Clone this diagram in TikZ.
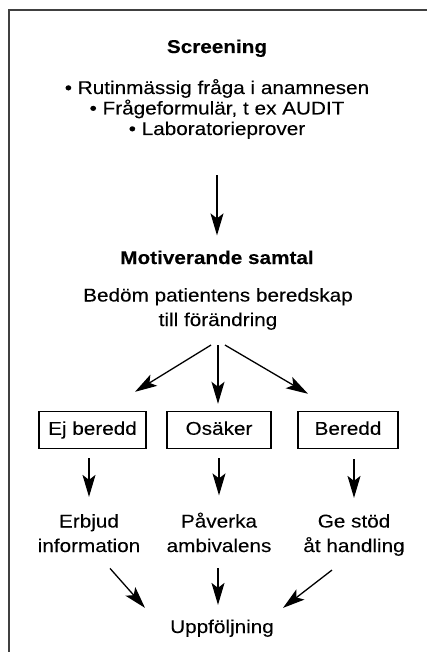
\documentclass[tikz,border=0pt]{standalone}
\usepackage{fontspec}
\setmainfont[FakeStretch=1.12, FakeBold=0.1]{Liberation Sans}
\usetikzlibrary{arrows.meta,calc}

\begin{document}
\begin{tikzpicture}[x=1pt, y=-1pt,
    every node/.style={font=\fontsize{18.5}{20.5}\selectfont, inner sep=0pt, align=center},
    head/.style={font=\fontsize{18.5}{20.5}\selectfont\bfseries},
    wide/.style={font=\fontsize{18.5}{24.5}\selectfont},
    arr/.style={-{Stealth[length=22pt, width=13pt, inset=5pt]}, line width=1.3pt},
    choice/.style={draw, line width=1.4pt, minimum height=37pt, text height=13.5pt, text depth=3.9pt}]
    \useasboundingbox (0,0) rectangle (426,652);
    % Frame (cut off on the right and below)
    \draw[line width=2pt, black!75] (9,670) -- (9,10.5) -- (440,10.5);

    % Screening
    \node[head, anchor=base] (screen) at (217,53) {Screening};
    \node[anchor=base] (lista) at (217,135) {\textbullet\ Rutinmässig fråga i anamnesen\\\textbullet\ Frågeformulär, t ex AUDIT\\\textbullet\ Laboratorieprover};

    % Motiverande samtal
    \node[head, anchor=base] (motiv) at (217,264) {Motiverande samtal};
    \node[wide, anchor=base] (bedom) at (218,326) {Bedöm patientens beredskap\\till förändring};
    \draw[arr, shorten <=36pt, shorten >=15pt] (lista.south) -- (motiv.north);

    % Readiness
    \foreach \nm/\x/\w/\txt in {ej/92.5/107/Ej beredd, osak/219/104/Osäker, bered/348/100/Beredd}
        \node[choice, minimum width=\w pt] (\nm) at (\x,430) {\txt};
    \draw[arr] ($(bedom.south)+(-7,15)$) -- ($(ej.north)+(42.5,-19)$);
    \draw[arr] ($(bedom.south)+(0,15)$) -- ($(osak.north)+(-1,-7)$);
    \draw[arr] ($(bedom.south)+(7,15)$) -- ($(bered.north)+(-40,-17)$);

    % Actions
    \node[wide, anchor=base] (erbjud) at (89,552) {Erbjud\\information};
    \node[wide, anchor=base] (paverka) at (219,552) {Påverka\\ambivalens};
    \node[wide, anchor=base] (gestod) at (354,552) {Ge stöd\\åt handling};
    \draw[arr, shorten <=9pt, shorten >=17pt] (ej.south -| erbjud.north) -- (erbjud.north);
    \draw[arr, shorten <=9pt, shorten >=17pt] (osak.south -| paverka.north) -- (paverka.north);
    \draw[arr, shorten <=10pt, shorten >=16pt] (bered.south -| gestod.north) -- (gestod.north);

    % Follow-up
    \node[anchor=base] (uppf) at (222,633) {Uppföljning};
    \draw[arr] ($(erbjud.south)+(21,16)$) -- ($(uppf.north)+(-77,-11.5)$);
    \draw[arr] ($(paverka.south)+(-1,16)$) -- ($(uppf.north)+(-4,-14.5)$);
    \draw[arr] ($(gestod.south)+(-22,14)$) -- ($(uppf.north)+(61,-11.5)$);
\end{tikzpicture}
\end{document}
